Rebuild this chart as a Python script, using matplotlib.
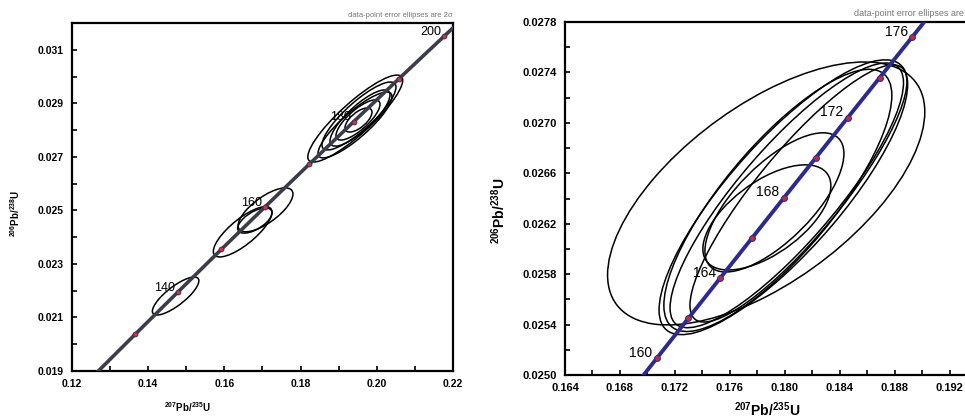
import numpy as np
import matplotlib
matplotlib.use('Agg')
import matplotlib.pyplot as plt
from matplotlib.patches import Ellipse

plt.rcParams['font.family'] = ['Liberation Sans', 'DejaVu Sans']
plt.rcParams['mathtext.fontset'] = 'custom'
plt.rcParams['mathtext.rm'] = 'Liberation Sans'
plt.rcParams['mathtext.bf'] = 'Liberation Sans:bold'

# --- concordia points (age in Ma, 207Pb/235U, 206Pb/238U) ---
left_ages = [120, 130, 140, 150, 160, 170, 180, 190, 200, 210]
left_x207 = [0.125449, 0.13659, 0.147837, 0.159197, 0.17067, 0.182256, 0.193957, 0.205774, 0.217708, 0.229759]
left_y206 = [0.018789, 0.020371, 0.021955, 0.023542, 0.025131, 0.026722, 0.028316, 0.029912, 0.031511, 0.033113]
left_labels = [140, 160, 180, 200]

right_ages = [158, 160, 162, 164, 166, 168, 170, 172, 174, 176, 178]
right_x207 = [0.168366, 0.17067, 0.172978, 0.17529, 0.177608, 0.179929, 0.182256, 0.184587, 0.186922, 0.189263, 0.191608]
right_y206 = [0.024813, 0.025131, 0.025449, 0.025767, 0.026085, 0.026404, 0.026722, 0.027041, 0.027359, 0.027678, 0.027997]
right_labels = [160, 164, 168, 172, 176]

# --- error ellipses: centre, 2-sigma half widths, error correlation ---
left_ex = [0.1472, 0.1648, 0.1708, 0.1680, 0.19435, 0.19533, 0.19559, 0.19507, 0.1952, 0.19428]
left_ey = [0.02180, 0.02420, 0.02502, 0.02462, 0.02843, 0.028526, 0.02845, 0.028377, 0.028376, 0.02819]
left_sx = [0.0061, 0.0077, 0.0072, 0.0045, 0.01245, 0.00971, 0.00787, 0.00578, 0.00355, 0.0097]
left_sy = [0.00071, 0.00094, 0.00082, 0.00047, 0.001625, 0.00127, 0.00105, 0.00075, 0.00045, 0.00123]
left_rho = [0.80, 0.78, 0.72, 0.62, 0.88, 0.85, 0.82, 0.78, 0.65, 0.86]

right_ex = [0.17865, 0.17990, 0.18015, 0.18100, 0.17950, 0.17925, 0.17870]
right_ey = [0.02644, 0.026410, 0.026425, 0.026440, 0.026385, 0.026369, 0.026250]
right_sx = [0.01155, 0.00905, 0.00850, 0.00790, 0.00830, 0.00506, 0.00466]
right_sy = [0.001043, 0.00109, 0.00105, 0.00102, 0.00104, 0.000552, 0.000417]
right_rho = [0.62, 0.82, 0.85, 0.87, 0.80, 0.70, 0.60]

left_xticks = [0.12, 0.14, 0.16, 0.18, 0.20, 0.22]
left_yticks = [0.019, 0.021, 0.023, 0.025, 0.027, 0.029, 0.031]
right_xticks = [0.164, 0.168, 0.172, 0.176, 0.180, 0.184, 0.188, 0.192]
right_yticks = [0.0250, 0.0254, 0.0258, 0.0262, 0.0266, 0.0270, 0.0274, 0.0278]

note = 'data-point error ellipses are 2\u03c3'


def add_ellipse(ax, x, y, sx, sy, rho):
    cov = np.array([[sx**2, rho*sx*sy], [rho*sx*sy, sy**2]])
    vals, vecs = np.linalg.eigh(cov)
    ang = np.degrees(np.arctan2(vecs[1, 1], vecs[0, 1]))
    ax.add_patch(Ellipse((x, y), 2*np.sqrt(vals[1]), 2*np.sqrt(vals[0]), angle=ang,
                         fill=False, ec='black', lw=1.1, zorder=2))


def style_axes(ax, xt, yt, xfmt, yfmt, lsize):
    ax.set_xticks(xt, labels=[xfmt % v for v in xt], fontweight='bold', fontsize=lsize)
    ax.set_yticks(yt, labels=[yfmt % v for v in yt], fontweight='bold', fontsize=lsize)
    ax.tick_params(which='both', direction='in', length=3.5, width=1.2, top=False, right=False, pad=6)
    for s in ax.spines.values():
        s.set_linewidth(1.6)


fig = plt.figure(figsize=(9.65, 4.19), dpi=100)

# left panel: full concordia 130-200 Ma
axL = fig.add_axes([0.0746, 0.1146, 0.3948, 0.8305])
for i in range(len(left_ex)):
    add_ellipse(axL, left_ex[i], left_ey[i], left_sx[i], left_sy[i], left_rho[i])
axL.plot(left_x207, left_y206, color='#3c3c4c', lw=2.6, zorder=3)
axL.plot(left_x207, left_y206, 'o', ms=3.5, mfc='#d0304a', mec='#303040', mew=0.6, zorder=4)
for age, x, y in zip(left_ages, left_x207, left_y206):
    if age in left_labels:
        axL.annotate(str(age), (x, y), xytext=(-2, 3), textcoords='offset points',
                     ha='right', va='center', fontsize=9, zorder=1.5)
axL.set_xlim(0.12, 0.22)
axL.set_ylim(0.019, 0.032)
axL.set_xticks(np.arange(0.13, 0.22, 0.02), minor=True)
axL.set_yticks(np.arange(0.020, 0.0321, 0.002), minor=True)
style_axes(axL, left_xticks, left_yticks, '%.2f', '%.3f', 7.5)
axL.text(0.304, -0.103, r'$\mathbf{^{207}Pb/^{235}U}$', transform=axL.transAxes,
         ha='center', va='center', fontsize=7)
axL.text(-0.15, 0.454, r'$\mathbf{^{206}Pb/^{238}U}$', transform=axL.transAxes,
         ha='center', va='center', fontsize=7, rotation=90)
axL.text(1.0, 1.012, note, transform=axL.transAxes, ha='right', va='bottom',
         fontsize=5.5, color='#777777')

# right panel: zoom on 160-176 Ma
axR = fig.add_axes([0.5855, 0.105, 0.4269, 0.8425])
for i in range(len(right_ex)):
    add_ellipse(axR, right_ex[i], right_ey[i], right_sx[i], right_sy[i], right_rho[i])
axR.plot(right_x207, right_y206, color='#2e2a8c', lw=2.8, zorder=3)
axR.plot(right_x207, right_y206, 'o', ms=4.2, mfc='#c8283c', mec='#2a2a8a', mew=0.7, zorder=4)
for age, x, y in zip(right_ages, right_x207, right_y206):
    if age in right_labels:
        axR.annotate(str(age), (x, y), xytext=(-3, 4), textcoords='offset points',
                     ha='right', va='center', fontsize=10, zorder=1.5)
axR.set_xlim(0.164, 0.194)
axR.set_ylim(0.0250, 0.0278)
axR.set_xticks(np.arange(0.166, 0.1941, 0.004), minor=True)
axR.set_yticks(np.arange(0.0252, 0.0278, 0.0004), minor=True)
style_axes(axR, right_xticks, right_yticks, '%.3f', '%.4f', 8)
axR.text(0.49, -0.098, r'$\mathbf{^{207}Pb/^{235}U}$', transform=axR.transAxes,
         ha='center', va='center', fontsize=10)
axR.text(-0.16, 0.466, r'$\mathbf{^{206}Pb/^{238}U}$', transform=axR.transAxes,
         ha='center', va='center', fontsize=10, rotation=90)
axR.text(1.0, 1.012, note, transform=axR.transAxes, ha='right', va='bottom',
         fontsize=6.5, color='#777777')

fig.savefig('out.png', dpi=100)
